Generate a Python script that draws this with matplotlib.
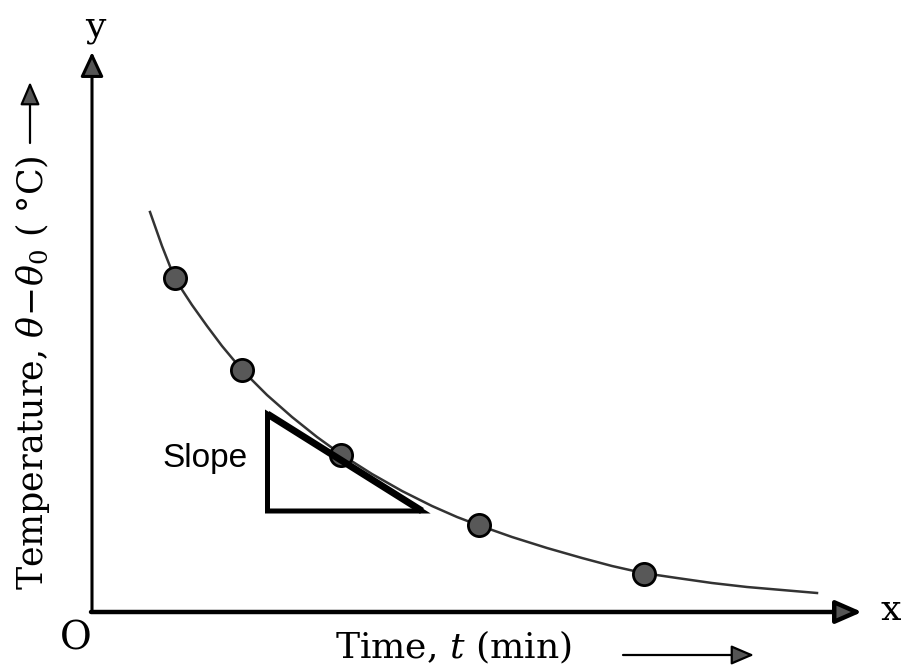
import matplotlib
matplotlib.use("Agg")
import matplotlib.pyplot as plt
from matplotlib.patches import Polygon, FancyArrowPatch, ArrowStyle

plt.rcParams["mathtext.fontset"] = "dejavuserif"

# Measured data points (time, temperature excess) in chart units
time_points = [8.3, 15.0, 24.9, 38.7, 55.2]
temp_points = [33.4, 24.2, 15.7, 8.7, 3.8]

# Smooth cooling curve
curve_time = [5.8, 7.0, 8.3, 10.0, 11.5, 13.0, 15.0, 17.5, 20.0, 22.5, 25.0,
              28.0, 31.0, 34.0, 36.5, 38.6, 42.0, 45.5, 49.0, 52.0, 55.1,
              58.5, 62.0, 65.5, 69.0, 72.5]
curve_temp = [40.0, 36.6, 33.3, 30.7, 28.6, 26.6, 24.2, 21.7, 19.5, 17.5, 15.7,
              13.8, 12.1, 10.6, 9.5, 8.7, 7.5, 6.4, 5.4, 4.6, 3.9,
              3.4, 2.9, 2.5, 2.2, 1.9]

# Slope triangle corners
slope_x = [17.55, 17.55, 33.0]
slope_y = [19.8, 10.1, 10.1]

fig = plt.figure(figsize=(9.08, 6.68), dpi=100)
ax = fig.add_axes([0, 0, 1, 1])
ax.set_xlim(-9.2, 81.6)
ax.set_ylim(-5.6, 61.2)
ax.axis("off")

serif = "DejaVu Serif"

def arrow(p0, p1, lw, hl, hw):
    a = FancyArrowPatch(p0, p1, arrowstyle=ArrowStyle("-|>", head_length=hl, head_width=hw),
                        mutation_scale=1, lw=lw, fc="#555555", ec="black",
                        shrinkA=0, shrinkB=0, zorder=3)
    ax.add_patch(a)

# axes
arrow((0, 0), (0, 56.0), 2.2, 15, 7)
arrow((-0.1, 0), (77.0, 0), 3.2, 16, 7)

# curve and points
ax.plot(curve_time, curve_temp, color="#333333", lw=1.8, zorder=4)
ax.plot(time_points, temp_points, "o", ms=16, mfc="#585858", mec="black",
        mew=2, zorder=5)

# slope triangle
tri = Polygon(list(zip(slope_x, slope_y)), closed=True, fill=False,
              ec="black", lw=3.6, joinstyle="miter", zorder=6)
ax.add_patch(tri)
ax.plot([slope_x[0], slope_x[2]], [slope_y[0], slope_y[2]], color="black",
        lw=5.0, solid_capstyle="butt", zorder=6)
ax.text(7.0, 14.5, "Slope", fontsize=24, family="Liberation Sans",
        ha="left", va="baseline")

# labels
ax.text(0.3, 57.5, "y", fontsize=26, family=serif, ha="center", va="baseline")
ax.text(79.9, -0.8, "x", fontsize=26, family=serif, ha="center", va="baseline")
ax.text(-1.6, -2.7, "O", fontsize=28, family=serif, ha="center", va="center")

ax.text(24.3, -4.65, "Time, $t$ (min)", fontsize=26, family=serif,
        ha="left", va="baseline")
arrow((53.1, -4.3), (66.2, -4.3), 1.6, 14, 6)

ax.text(-4.9, 2.2, r"Temperature, $\theta\!-\!\theta_0$ ( °C)", fontsize=25,
        family=serif, rotation=90, rotation_mode="anchor",
        ha="left", va="baseline")
arrow((-6.2, 46.9), (-6.2, 53.0), 1.6, 14, 6)

fig.savefig("out.png", dpi=100)
